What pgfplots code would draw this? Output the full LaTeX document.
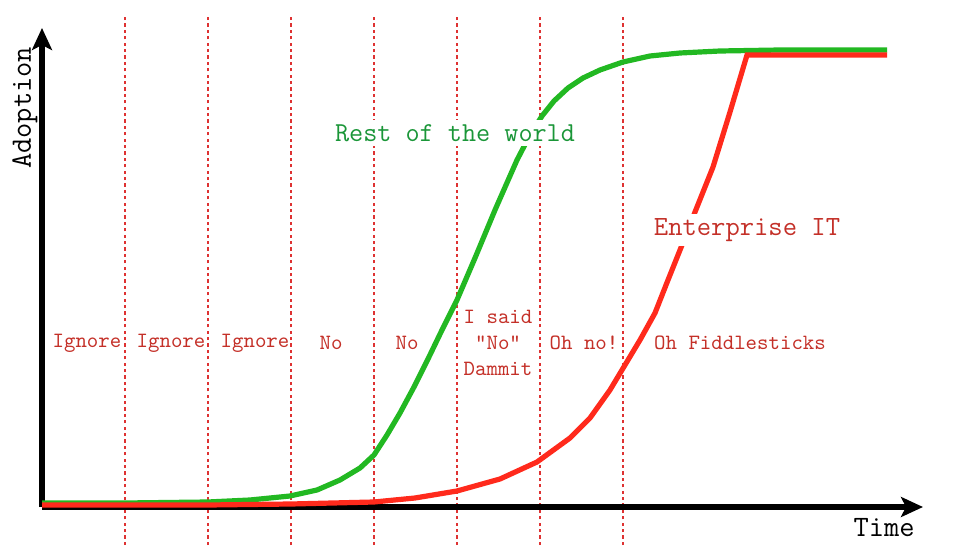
\documentclass[border=0pt]{standalone}
\usepackage{fontspec}
\usepackage{pgfplots}
\pgfplotsset{compat=1.18}
\usetikzlibrary{arrows.meta}

\definecolor{curvegreen}{RGB}{34,184,34}
\definecolor{curvered}{RGB}{255,42,28}
\definecolor{labelred}{RGB}{196,48,40}
\definecolor{labelgreen}{RGB}{26,150,56}
\definecolor{gridred}{RGB}{222,50,50}

% x: time (px from y axis), y: adoption (px above x axis)
\pgfplotstableread{
x y
0 4
83 4
166 5
208 7
248 11
275 17
298 27
318 39
332 52
345 72
358 94
372 120
386 148
400 177
415 207
433 249
453 297
475 347
488 372
500 391
512 406
526 419
541 429
558 437
581 445
608 451
638 454
678 456
738 457
845 457
}\rest

\pgfplotstableread{
x y
0 2
83 2
166 2
249 3
332 5
373 9
415 16
458 28
495 45
528 69
548 89
568 117
583 142
598 167
613 194
626 227
642 267
655 300
671 340
688 395
705 452
845 452
}\enterprise

\tikzset{phase/.style={text=labelred, font=\ttfamily\fontsize{10.9}{12.8}\selectfont, inner sep=1pt}}

\begin{document}
\begin{tikzpicture}
\begin{axis}[
    width=487pt, height=276pt, scale only axis,
    xmin=-42, xmax=932, ymin=-45, ymax=507,
    axis lines=none, clip=false,
]
\path (rel axis cs:0,0) rectangle (rel axis cs:1,1);

% phase separators
\foreach \xv in {83,166,249,332,415,498,581} {
    \edef\temp{\noexpand\addplot[gridred, line width=0.75pt, dash pattern=on 1.6pt off 1.6pt, forget plot]
        coordinates {(\xv,-38) (\xv,492)};}
    \temp
}

% axes
\addplot[black, line width=2.6pt, -{Stealth[length=11pt,width=10pt,inset=2.5pt]}] coordinates {(0,0) (0,479)};
\addplot[black, line width=2.6pt, -{Stealth[length=11pt,width=10pt,inset=2.5pt]}] coordinates {(0,0) (881,0)};

% curves
\addplot[curvegreen, line width=2.6pt] table {\rest};
\addplot[curvered, line width=2.6pt] table {\enterprise};

% phase labels
\node[phase] at (axis cs:45,164) {Ignore};
\node[phase] at (axis cs:129,164) {Ignore};
\node[phase] at (axis cs:213,164) {Ignore};
\node[phase] at (axis cs:289,164) {No};
\node[phase] at (axis cs:365,164) {No};
\node[phase, align=center] at (axis cs:456,164) {I said\\“No”\\Dammit};
\node[phase] at (axis cs:542,164) {Oh no!};
\node[phase] at (axis cs:698,164) {Oh Fiddlesticks};

% curve labels
\node[fill=white, text=labelgreen, font=\ttfamily\fontsize{13.7}{15}\selectfont, inner sep=2pt] at (axis cs:413,374) {Rest of the world};
\node[fill=white, text=labelred, font=\ttfamily\fontsize{13.9}{15}\selectfont, inner sep=2pt] at (axis cs:705,277) {Enterprise IT};

% axis titles
\node[text=black, font=\ttfamily\fontsize{14.8}{16}\selectfont] at (axis cs:842,-21) {Time};
\node[text=black, font=\ttfamily\fontsize{14.8}{16}\selectfont, rotate=90] at (axis cs:-17,399) {Adoption};
\end{axis}
\end{tikzpicture}
\end{document}
